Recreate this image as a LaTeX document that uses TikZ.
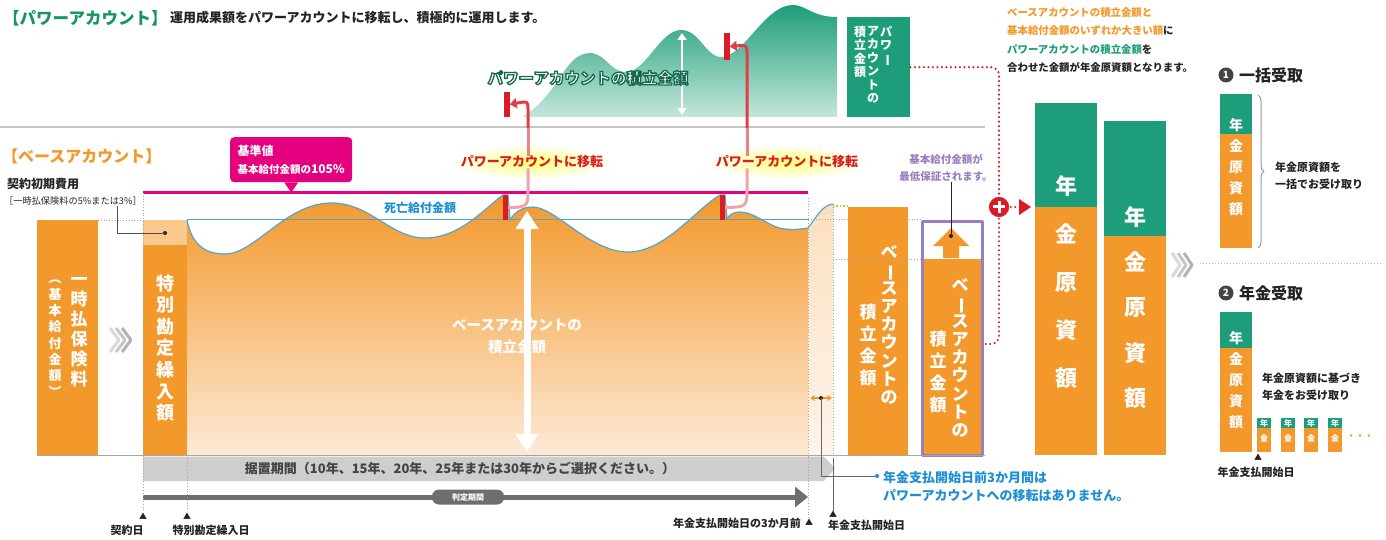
\documentclass[tikz,border=0pt]{standalone}
\usepackage{graphicx}
\usepackage{fontspec}
\setmainfont{Noto Sans CJK JP}
\usetikzlibrary{arrows.meta,decorations.pathreplacing}

\definecolor{ora}{RGB}{243,152,42}
\definecolor{oralt}{RGB}{249,200,140}
\definecolor{peach}{RGB}{253,234,214}
\definecolor{kgreen}{RGB}{30,157,122}
\definecolor{kgreenlt}{RGB}{196,231,218}
\definecolor{kgreendk}{RGB}{20,105,80}
\definecolor{hgreen}{RGB}{22,150,95}
\definecolor{kmag}{RGB}{228,0,127}
\definecolor{kblue}{RGB}{30,142,212}
\definecolor{kline}{RGB}{85,165,200}
\definecolor{kpurple}{RGB}{152,128,192}
\definecolor{kred}{RGB}{218,28,38}
\definecolor{kgray}{RGB}{206,206,206}
\definecolor{kdark}{RGB}{110,110,110}
\definecolor{ktext}{RGB}{35,35,35}

\newcommand\fs[1]{\fontsize{#1}{#1}\selectfont}
% outlined text (fill + stroke)
\newcommand\fuchi[2]{\special{pdf:literal direct 2 Tr #1 w 0.08 0.41 0.31 RG}#2\special{pdf:literal direct 0 Tr}}

% vertical (tategaki) text, one glyph per line
\makeatletter
\def\tate@bar{ー}\def\tate@lp{（}\def\tate@rp{）}
\newcommand\tate[2][1.2]{\vbox{\baselineskip=#1em\lineskiplimit=-\maxdimen
  \@tfor\tate@c:=#2\do{\hbox to 1em{\hss\tate@glyph\hss}}}}
\def\tate@glyph{\ifx\tate@c\tate@bar\rotatebox[origin=c]{-90}{ー}%
  \else\ifx\tate@c\tate@lp\rotatebox[origin=c]{-90}{（}%
  \else\ifx\tate@c\tate@rp\rotatebox[origin=c]{-90}{）}%
  \else\tate@c\fi\fi\fi}
\makeatother

\def\basewave{(187,220) .. controls (192,245) and (205,254) .. (225,254)
  .. controls (255,254) and (285,204) .. (330,203)
  .. controls (370,202) and (390,238) .. (425,238)
  .. controls (460,238) and (485,208) .. (503,195) -- (508,195) -- (510,220)
  .. controls (515,212) and (522,207) .. (533,207)
  .. controls (555,207) and (590,252) .. (628,252)
  .. controls (665,252) and (695,210) .. (720,195) -- (725,195) -- (727,219)
  .. controls (730,214) and (734,212) .. (740,212)
  .. controls (755,212) and (770,228) .. (785,229)
  .. controls (795,230) and (802,229) .. (808,228)}

\begin{document}
\begin{tikzpicture}[x=1pt, y=-1pt, line join=round,
    lbl/.style={inner sep=0pt, text=ktext},
    vtxt/.style={inner sep=0pt, text=white},
    colbox/.style={fill=ora, draw=none, inner sep=0pt},
    topbox/.style={fill=kgreen, draw=none, inner sep=0pt, anchor=south west},
    redbar/.style={fill=kred, minimum width=5, minimum height=25, inner sep=0pt},
    marker/.style={inner sep=0pt, text=ktext, font=\fs{8}},
    reddots/.style={kred, line width=2.4, dash pattern=on 0pt off 4.5pt, line cap=round},
    guide/.style={gray!70, dotted, line width=0.8},
    dotmark/.style={circle, fill=ktext, inner sep=0pt, minimum size=4},
  ]
\useasboundingbox (0,0) rectangle (1386,540);

% power account
\node[lbl, anchor=west, text=hgreen, font=\fs{16.5}\bfseries] (pwhead) at (3,18) {【パワーアカウント】};
\node[lbl, anchor=west, font=\fs{13}\bfseries] (pwnote) at (170,18) {運用成果額をパワーアカウントに移転し、積極的に運用します。};

\shade[top color=kgreen, bottom color=kgreenlt] (522,117) .. controls (535,110) and (545,98) .. (556,84)
  .. controls (566,68) and (575,53) .. (590,53) .. controls (605,53) and (610,72) .. (626,72)
  .. controls (646,72) and (660,30) .. (681,30) .. controls (700,30) and (706,58) .. (722,57)
  .. controls (745,55) and (765,5) .. (793,5) .. controls (806,5) and (812,17) .. (837,17)
  -- (837,117) -- cycle;
\coordinate (pwtop) at (682,33);
\coordinate (pwbot) at (682,115);
\draw[white, line width=2.5, {Triangle[length=7pt,width=9pt]}-{Triangle[length=7pt,width=9pt]}] (pwtop) -- (pwbot);
\node[lbl, text=white, font=\fs{15.5}\bfseries] (pwamt) at (588,78) {\fuchi{1.3}{パワーアカウントの積立金額}};

\node[fill=kgreen, minimum width=63, minimum height=100, inner sep=0, anchor=north west] (pwbox) at (847,17) {};
\node[vtxt, anchor=north, font=\fs{12}\bfseries] (pwv1) at (886,26) {\tate[1.12]{パワー}};
\node[vtxt, anchor=north, font=\fs{12}\bfseries] (pwv2) at (873,26) {\tate[1.12]{アカウントの}};
\node[vtxt, anchor=north, font=\fs{12}\bfseries] (pwv3) at (860,26) {\tate[1.12]{積立金額}};

\node[redbar, minimum width=6] (b1hi) at (506.5,104.5) {};
\node[redbar, minimum width=6, minimum height=27] (b2hi) at (726.5,46.5) {};

\draw[gray!45, line width=1.2] (0,127) -- (985,127);

% base account
\node[lbl, anchor=west, text=ora, font=\fs{16}\bfseries] (bshead) at (2,156) {【ベースアカウント】};
\node[lbl, anchor=west, font=\fs{12}\bfseries] (cost) at (7,184) {契約初期費用};
\node[lbl, anchor=west, font=\fs{9.2}] (costnote) at (4,201) {［一時払保険料の5\%または3\%］};

\node[colbox, anchor=north west, minimum width=61, minimum height=235] (paycol) at (37,220) {};
\node[vtxt, font=\fs{17}\bfseries] (payv1) at (79,332) {\tate[1.18]{一時払保険料}};
\node[vtxt, font=\fs{13}\bfseries] (payv2) at (55,335) {\tate[1.25]{（基本給付金額）}};

\fill[oralt] (143,220) rectangle (187,245);
\node[colbox, anchor=north west, minimum width=44, minimum height=210] (spcol) at (143,245) {};
\node[vtxt, font=\fs{18}\bfseries] (spv) at (165,348) {\tate[1.2]{特別勘定繰入額}};

\node[dotmark] (costdot) at (165,233) {};
\coordinate (costtip) at (117,206);
\draw[ktext!80, line width=0.6] (costdot.center) -| (costtip);

\foreach \i/\c in {0/gray!30, 1/gray!45, 2/gray!60}
  \draw[\c, line width=3] (110+6*\i,328) -- (119+6*\i,340) -- (110+6*\i,352);

\draw[guide] (98,220) -- (143,220);

\shade[top color=ora, bottom color=peach] (187,455) -- \basewave -- (808,455) -- cycle;
\shade[top color=ora!30, bottom color=peach!50] (808,228) .. controls (816,218) and (822,205) .. (833,204)
  -- (833,455) -- (808,455) -- cycle;
\draw[kline, line width=1.2] \basewave .. controls (816,218) and (822,205) .. (833,204);
\draw[kline, line width=1] (187,219.5) -- (808,219.5);
\draw[guide] (808,219.5) -- (921,219.5);
\draw[yellow!60!olive, dotted, line width=1.4] (833,206) -- (848,206);

\draw[kmag, line width=3] (143,193) -- (808,193);
\node[fill=kmag, rounded corners=4, text=white, align=left, inner xsep=6, inner ysep=4,
  minimum width=122, minimum height=45, anchor=north west] (kijun) at (230,137)
  {{\fs{12}\bfseries 基準値}\\[6pt]{\fs{10.5}\bfseries 基本給付金額の}{\fs{12}\bfseries 105\%}};
\fill[kmag] ([xshift=-7pt]kijun.south) -- ([xshift=7pt]kijun.south) -- ([yshift=-10pt]kijun.south) -- cycle;

\node[lbl, text=kblue, font=\fs{12}\bfseries] (death) at (420,208) {死亡給付金額};

% transfers to the power account
\node[redbar] (b1lo) at (505.5,207.5) {};
\node[redbar] (b2lo) at (722.5,207.5) {};
\shade[inner color=yellow!55, outer color=white] (532,162) ellipse (82 and 17);
\shade[inner color=yellow!55, outer color=white] (787,162) ellipse (82 and 17);
\node[lbl, text=kred, font=\fs{13}\bfseries] (move1) at (532,162) {パワーアカウントに移転};
\node[lbl, text=kred, font=\fs{13}\bfseries] (move2) at (787,162) {パワーアカウントに移転};
\coordinate (t1mid) at (528,128);
\coordinate (t2mid) at (747,128);
\draw[kred!40, line width=3] (b1lo.east) .. controls (528,207) .. (528,188) -- (t1mid |- move1.south);
\draw[kred!55, line width=3] (t1mid |- move1.north) -- (t1mid);
\draw[kred!85, line width=3, -{Triangle[length=7pt,width=10pt]}] (t1mid) -- (528,110) .. controls (528,101) .. (b1hi.east);
\draw[kred!40, line width=3] (b2lo.east) .. controls (747,207) .. (747,188) -- (t2mid |- move2.south);
\draw[kred!55, line width=3] (t2mid |- move2.north) -- (t2mid);
\draw[kred!85, line width=3, -{Triangle[length=7pt,width=10pt]}] (t2mid) -- (747,54) .. controls (747,45) .. (b2hi.east);

\coordinate (bstop) at (527,211);
\coordinate (bsbot) at (527,452);
\draw[white, line width=7, {Triangle[length=18pt,width=22pt]}-{Triangle[length=18pt,width=22pt]}] (bstop) -- (bsbot);
\node[vtxt, align=center, font=\fs{14.5}\bfseries] (bsamt) at (517,336) {ベースアカウントの\\[8pt]積立金額};

% base account total and guaranteed minimum
\node[colbox, anchor=north west, minimum width=60, minimum height=248] (bscol) at (848,207) {};
\node[vtxt, font=\fs{17}\bfseries] (bsv1) at (889,325) {\tate[1.06]{ベースアカウントの}};
\node[vtxt, font=\fs{17}\bfseries] (bsv2) at (868,345) {\tate[1.3]{積立金額}};

\fill[ora] (921,259) rectangle (981,454);
\node[draw=kpurple, line width=3, inner sep=0, minimum width=60, minimum height=234, anchor=north west] (minbox) at (921,220) {};
\draw[guide] (833,259) -- (921,259);
\fill[ora] (933,246) -- (951,228) -- (969,246) -- (959,246) -- (959,258) -- (943,258) -- (943,246) -- cycle;
\node[vtxt, font=\fs{17}\bfseries] (minv1) at (960,358) {\tate[1.06]{ベースアカウントの}};
\node[vtxt, font=\fs{17}\bfseries] (minv2) at (938,372) {\tate[1.3]{積立金額}};
\node[lbl, text=kpurple, align=center, font=\fs{10.5}\bfseries] (saitei) at (946,168) {基本給付金額が\\[7pt]最低保証されます。};
\node[dotmark] (updot) at (951,236) {};
\draw[ktext, line width=0.6] (saitei.south -| updot) -- (updot);

% sum
\node[circle, fill=kred, draw=white, line width=1.5, minimum size=22, inner sep=0] (plus) at (999,207) {};
\draw[white, line width=3] ([xshift=-6pt]plus.center) -- ([xshift=6pt]plus.center)
  ([yshift=-6pt]plus.center) -- ([yshift=6pt]plus.center);
\coordinate (pjoin) at (982,344);
\coordinate (ptip) at (1018,207);
\draw[reddots, rounded corners=8] (pwbox.east) -| (plus.north);
\draw[reddots, rounded corners=8] (plus.south) |- (pjoin);
\draw[reddots] (plus.east) -- (ptip);
\fill[kred] (1019,199) -- (1031,207) -- (1019,215) -- cycle;

\node[lbl, anchor=north west, align=left, font=\fs{10.4}\bfseries] (gokei) at (1007,7)
  {\textcolor{ora}{ベースアカウントの積立金額と}\\[8.2pt]
   \textcolor{ora}{基本給付金額のいずれか大きい額}に\\[8.2pt]
   \textcolor{kgreen}{パワーアカウントの積立金額}を\\[8.2pt]
   合わせた金額が年金原資額となります。};

\node[colbox, anchor=north west, minimum width=62, minimum height=248] (capA) at (1035,207) {};
\node[topbox, minimum width=62, minimum height=104] (capAtop) at (1035,207) {};
\node[vtxt, font=\fs{22}\bfseries] (capAv) at (1066,282.5) {\tate[2.18]{年金原資額}};
\node[colbox, anchor=north west, minimum width=62, minimum height=219] (capB) at (1104,236) {};
\node[topbox, minimum width=62, minimum height=115] (capBtop) at (1104,236) {};
\node[vtxt, font=\fs{22}\bfseries] (capBv) at (1135,307.5) {\tate[2.05]{年金原資額}};

% time line
\draw[gray!70, line width=1.2] (37,455.5) -- (985,455.5);
\fill[kgray] (143,456.5) -- (824,456.5) -- (835,468.5) -- (824,481) -- (143,481) -- cycle;
\node[lbl, text=ktext!85, font=\fs{13}\bfseries] (sueoki) at (460,468.5) {据置期間（10年、15年、20年、25年または30年からご選択ください。）};
\coordinate (hstart) at (143,497);
\coordinate (hend) at (808,497);
\draw[kdark, line width=5, -{Triangle[length=13pt,width=20pt]}] (hstart) -- (hend);
\node[fill=kdark, rounded corners=7, text=white, font=\fs{8}\bfseries, minimum width=72, minimum height=15, inner sep=0] (hantei) at (468,497) {判定期間};

\draw[guide] (143,193) -- (143,510);
\draw[guide] (187,455) -- (187,510);
\draw[guide] (808,198) -- (808,518);
\draw[guide] (833,204) -- (833,455);

\node[marker] (m1) at (143,516) {▲};
\node[marker] (m2) at (187,516) {▲};
\node[marker] (m3) at (809,522) {▲};
\node[marker] (m4) at (833,514) {▲};
\draw[ktext!70, line width=0.6] (833,458) -- (m4.north);
\node[lbl, font=\fs{11}\bfseries] (m1lbl) at (127,530) {契約日};
\node[lbl, font=\fs{11}\bfseries] (m2lbl) at (211,530) {特別勘定繰入日};
\node[lbl, anchor=east, font=\fs{11}\bfseries] (m3lbl) at (801,523) {年金支払開始日の3か月前};
\node[lbl, anchor=west, font=\fs{11}\bfseries] (m4lbl) at (828,525) {年金支払開始日};

\coordinate (q1) at (810,398);
\coordinate (q2) at (832,398);
\draw[ora, line width=1.6, {Stealth[length=5pt,width=6pt]}-{Stealth[length=5pt,width=6pt]}] (q1) -- (q2);
\node[dotmark] (qdot) at (821,398) {};
\node[dotmark, fill=kblue] (ndot) at (877,476) {};
\draw[ktext!70, line width=0.6] (qdot.center) |- (ndot);
\node[lbl, anchor=west, text=kblue, align=left, font=\fs{13}\bfseries] (note3m) at (883,487) {年金支払開始日前3か月間は\\[5pt]パワーアカウントへの移転はありません。};

% ways to receive
\foreach \i/\c in {0/gray!30, 1/gray!45, 2/gray!60}
  \draw[\c, line width=3] (1172+6*\i,253) -- (1180+6*\i,265) -- (1172+6*\i,277);
\draw[gray!60, dotted, line width=1] (1200,263) -- (1382,263);

\node[circle, fill=ktext!85, inner sep=0, minimum size=15, text=white, font=\fs{10}\bfseries] (n1) at (1226,75) {1};
\node[lbl, anchor=west, font=\fs{16}\bfseries] (lump) at (1239,75) {一括受取};
\node[colbox, anchor=north west, minimum width=32, minimum height=114] (c1) at (1220,134) {};
\node[topbox, minimum width=32, minimum height=40] (c1top) at (1220,134) {};
\node[vtxt, font=\fs{14}\bfseries] (c1v) at (1236,167.5) {\tate[1.5]{年金原資額}};
\draw[gray!80, line width=1, decorate, decoration={brace, amplitude=6pt}] (1258,95) -- (1258,248);
\node[lbl, anchor=west, align=left, font=\fs{11}\bfseries] (lumpnote) at (1275,176) {年金原資額を\\[6pt]一括でお受け取り};

\node[circle, fill=ktext!85, inner sep=0, minimum size=15, text=white, font=\fs{10}\bfseries] (n2) at (1226,293) {2};
\node[lbl, anchor=west, font=\fs{16}\bfseries] (annu) at (1239,293) {年金受取};
\node[colbox, anchor=north west, minimum width=32, minimum height=104] (c2) at (1220,348) {};
\node[topbox, minimum width=32, minimum height=36] (c2top) at (1220,348) {};
\node[vtxt, font=\fs{14}\bfseries] (c2v) at (1236,380) {\tate[1.5]{年金原資額}};
\foreach \i/\x in {1/1257, 2/1281, 3/1304, 4/1328} {
  \node[colbox, anchor=north west, minimum width=14, minimum height=24] (s\i) at (\x,428) {};
  \node[topbox, minimum width=14, minimum height=10] (st\i) at (\x,428) {};
  \node[vtxt, font=\fs{8}\bfseries] (sn\i) at (\x+7,423.5) {年};
  \node[vtxt, font=\fs{8}\bfseries] (sk\i) at (\x+7,438) {金};
}
\node[lbl, text=ora, font=\fs{9}\bfseries] (more) at (1360,437) {・・・};
\node[lbl, anchor=west, align=left, font=\fs{11}\bfseries] (annnote) at (1262,387) {年金原資額に基づき\\[6pt]年金をお受け取り};
\node[marker] (m5) at (1258,457) {▲};
\node[lbl, font=\fs{11}\bfseries] (m5lbl) at (1256,472) {年金支払開始日};
\end{tikzpicture}
\end{document}
